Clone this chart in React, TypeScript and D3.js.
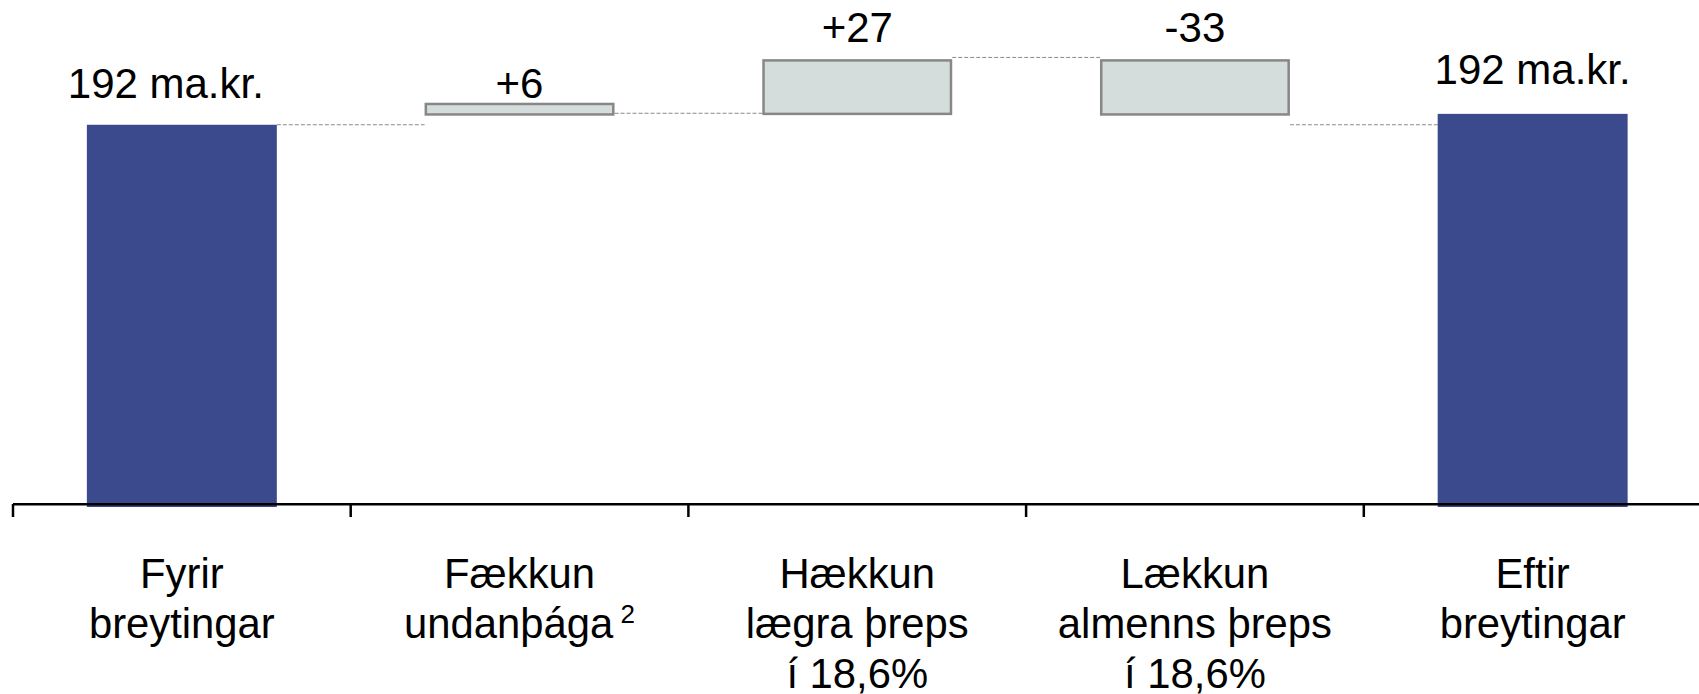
import * as d3 from 'd3';

const WIDTH = 1699;
const HEIGHT = 694;
const AXIS_LEFT = 13;
const BAND_STEP = 337.7;
const BASE_Y = 505;

// data (ma.kr.)
const categories = ['Fyrir breytingar', 'Fækkun undanþága', 'Hækkun lægra þreps', 'Lækkun almenns þreps', 'Eftir breytingar'];
const categoryLines = [
  ['Fyrir', 'breytingar'],
  ['Fækkun', 'undanþága'],
  ['Hækkun', 'lægra þreps', 'í 18,6%'],
  ['Lækkun', 'almenns þreps', 'í 18,6%'],
  ['Eftir', 'breytingar'],
];
const footnoteMarks = ['', '2', '', '', ''];
const barLow = [0, 197.2, 197.5, 197.2, 0];
const barHigh = [192, 202.5, 224.5, 224.5, 197.5];
const barKind = ['total', 'delta', 'delta', 'delta', 'total'];
const connectorLevels = [192, 197.8, 226, 192];
const valueLabels = ['192 ma.kr.', '+6', '+27', '-33', '192 ma.kr.'];

// label placement relative to bar, as in the picture
const LABEL_GAP = [27, 5, 17, 17, 30];
const LABEL_DX = [-16, 0, 0, 0, 0];

const FONT = '"Liberation Sans", Arial, sans-serif';
const NAVY = '#3b4a8c';
const GREY_FILL = '#d5dcdc';
const GREY_STROKE = '#878787';

export default function App() {
  const xScale = d3
    .scaleBand<string>()
    .domain(categories)
    .range([AXIS_LEFT, AXIS_LEFT + BAND_STEP * categories.length])
    .paddingInner(0)
    .paddingOuter(0);
  const yScale = d3.scaleLinear().domain([0, 255]).range([BASE_Y, 0]);

  const bw = xScale.bandwidth();
  const barW = bw * 0.5625;
  const barX = (i: number) => (xScale(categories[i]) ?? 0) + (bw - barW) / 2;
  const center = (i: number) => (xScale(categories[i]) ?? 0) + bw / 2;

  return (
    <div style={{ position: 'fixed', left: 0, top: 0 }}>
      <svg width={WIDTH} height={HEIGHT} style={{ display: 'block', background: '#fff' }}>
        {/* connectors */}
        {connectorLevels.map((lvl, i) => (
          <line
            key={`c${i}`}
            x1={barX(i) + barW}
            x2={barX(i + 1)}
            y1={yScale(lvl)}
            y2={yScale(lvl)}
            stroke="#8a8a8a"
            strokeWidth={1}
            strokeDasharray="4,2"
          />
        ))}

        {/* bars */}
        {categories.map((c, i) => {
          const top = yScale(barHigh[i]);
          const bot = barKind[i] === 'total' ? BASE_Y + 2 : yScale(barLow[i]);
          return barKind[i] === 'total' ? (
            <rect key={c} x={barX(i)} y={top} width={barW} height={bot - top} fill={NAVY} />
          ) : (
            <rect
              key={c}
              x={barX(i) + 1.25}
              y={top}
              width={barW - 2.5}
              height={bot - top}
              fill={GREY_FILL}
              stroke={GREY_STROKE}
              strokeWidth={2.5}
            />
          );
        })}

        {/* value labels */}
        {valueLabels.map((t, i) => {
          const topOuter = yScale(barHigh[i]) - (barKind[i] === 'total' ? 0 : 1.25);
          return (
            <text
              key={`v${i}`}
              x={center(i) + LABEL_DX[i]}
              y={topOuter - LABEL_GAP[i]}
              textAnchor="middle"
              fontFamily={FONT}
              fontSize={42}
              fill="#000"
            >
              {t}
            </text>
          );
        })}

        {/* axis */}
        <line x1={AXIS_LEFT} x2={WIDTH} y1={504.3} y2={504.3} stroke="#000" strokeWidth={2.6} />
        {categories.map((c) => (
          <line
            key={`t${c}`}
            x1={xScale(c) ?? 0}
            x2={xScale(c) ?? 0}
            y1={504}
            y2={517}
            stroke="#000"
            strokeWidth={2.5}
          />
        ))}

        {/* category labels */}
        {categoryLines.map((lines, i) => (
          <text key={`l${i}`} textAnchor="middle" fontFamily={FONT} fontSize={41.8} fill="#000">
            {lines.map((ln, j) => (
              <tspan key={j} x={center(i)} y={588 + j * 50}>
                {ln}
                {j === 1 && footnoteMarks[i] ? (
                  <tspan fontSize={26} dy={-15}>
                    {' ' + footnoteMarks[i]}
                  </tspan>
                ) : null}
              </tspan>
            ))}
          </text>
        ))}
      </svg>
    </div>
  );
}
